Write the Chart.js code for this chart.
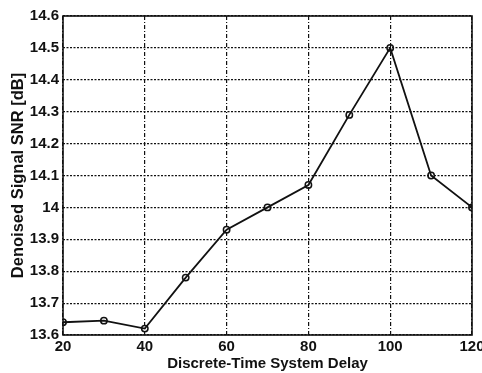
<!DOCTYPE html>
<html lang="en">
<head>
    <meta charset="UTF-8">
    <title>Denoised Signal SNR vs Delay</title>
    <script src="https://cdn.jsdelivr.net/npm/chart.js@4/dist/chart.umd.min.js"></script>
    <style>
        html, body { margin: 0; padding: 0; background: #fff; }
        #wrap { width: 482px; height: 373px; }
    </style>
</head>
<body>
    <div id="wrap"><canvas id="snrChart"></canvas></div>

    <script>
        const delays = [20, 30, 40, 50, 60, 70, 80, 90, 100, 110, 120];
        const snrValues = [13.64, 13.645, 13.62, 13.78, 13.93, 14.0, 14.07, 14.29, 14.5, 14.1, 14.0];

        const xTitle = 'Discrete-Time System Delay';
        const yTitle = 'Denoised Signal SNR [dB]';

        const family = 'Liberation Sans, Arial, sans-serif';
        const tickFont = { family, size: 15, weight: 'bold' };

        // solid frame around the plot area, drawn over the dotted grid
        const frame = {
            id: 'frame',
            afterDraw(chart) {
                const { ctx, chartArea: a } = chart;
                ctx.save();
                ctx.strokeStyle = '#111';
                ctx.lineWidth = 1.6;
                ctx.strokeRect(a.left, a.top, a.right - a.left, a.bottom - a.top);
                ctx.restore();
            }
        };

        const points = delays.map((d, i) => ({ x: d, y: snrValues[i] }));

        new Chart(document.getElementById('snrChart'), {
            type: 'line',
            data: {
                datasets: [{
                    data: points,
                    borderColor: '#111',
                    borderWidth: 1.8,
                    pointStyle: 'circle',
                    pointRadius: 3.2,
                    pointBorderWidth: 1.5,
                    pointBorderColor: '#111',
                    pointBackgroundColor: 'rgba(255,255,255,0)',
                    tension: 0,
                    fill: false
                }]
            },
            options: {
                responsive: true,
                maintainAspectRatio: false,
                animation: false,
                layout: { padding: { top: 16, right: 10, left: 0, bottom: 0 } },
                plugins: { legend: { display: false }, tooltip: { enabled: false } },
                scales: {
                    x: {
                        type: 'linear',
                        min: 20,
                        max: 120,
                        border: { display: false, dash: [4, 2, 1, 2] },
                        grid: { color: '#111', lineWidth: 1.2, drawTicks: false },
                        ticks: {
                            stepSize: 20,
                            color: '#111',
                            font: tickFont,
                            padding: 3,
                            maxRotation: 0
                        },
                        title: { display: true, text: xTitle, color: '#111', font: { family, size: 15, weight: 'bold' }, padding: { top: 0, bottom: 0 } },
                        afterFit(scale) {
                            scale.height = 38;
                            scale.paddingLeft = 0;
                            scale.paddingRight = 0;
                        }
                    },
                    y: {
                        min: 13.6,
                        max: 14.6,
                        border: { display: false, dash: [2, 1.5] },
                        grid: { color: '#111', lineWidth: 1.2, drawTicks: false },
                        ticks: {
                            stepSize: 0.1,
                            color: '#111',
                            font: tickFont,
                            padding: 4,
                            callback: v => String(Math.round(v * 10) / 10)
                        },
                        title: { display: true, text: yTitle, color: '#111', font: { family, size: 16.5, weight: 'bold' }, padding: { top: 9, bottom: 0 } },
                        afterFit(scale) {
                            scale.width = 63;
                            scale.paddingTop = 0;
                            scale.paddingBottom = 0;
                        }
                    }
                }
            },
            plugins: [frame]
        });
    </script>
</body>
</html>
